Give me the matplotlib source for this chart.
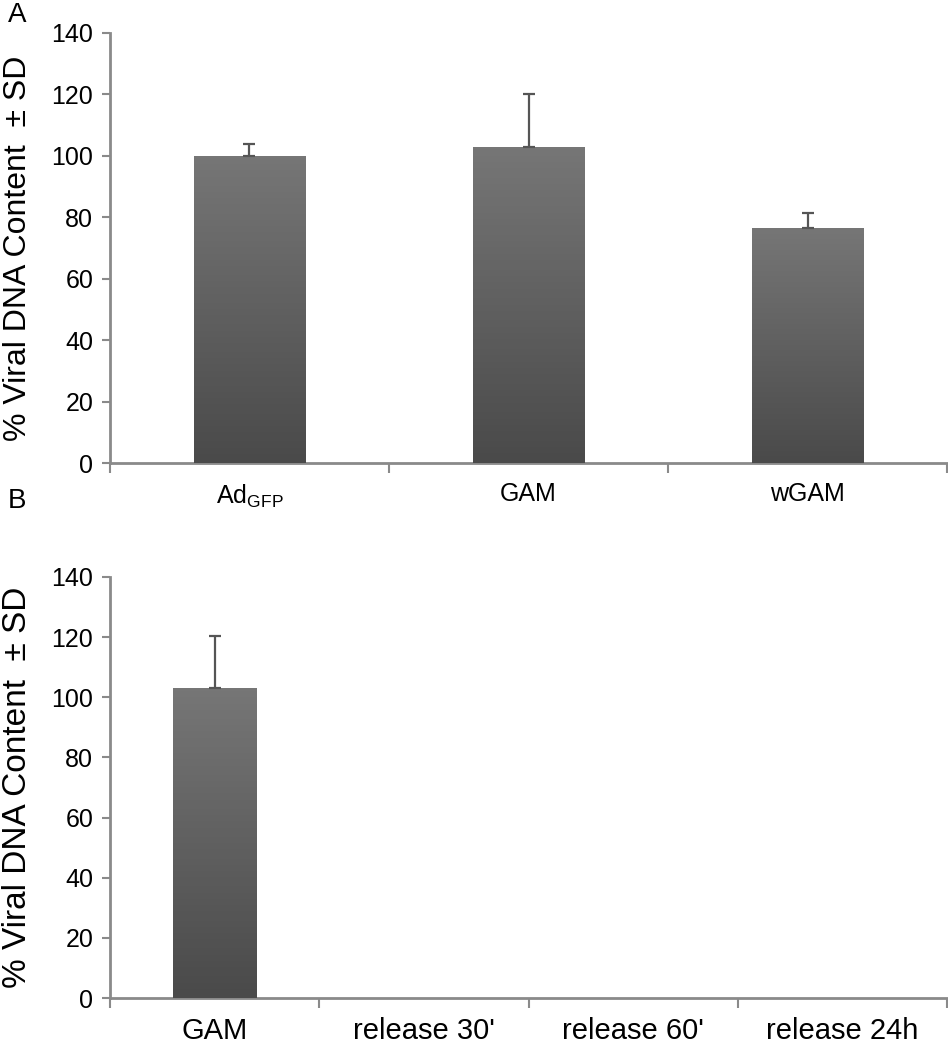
import numpy as np
import matplotlib
matplotlib.use('Agg')
import matplotlib.pyplot as plt

plt.rcParams['font.family'] = ['Liberation Sans', 'DejaVu Sans']
plt.rcParams['mathtext.fontset'] = 'custom'
plt.rcParams['mathtext.rm'] = 'Liberation Sans'

# panel A
cats_a = ['Ad$_{\\mathrm{GFP}}$', 'GAM', 'wGAM']
vals_a = [100, 103, 76.5]
sd_a = [4, 17, 5]

# panel B
cats_b = ['GAM', "release 30'", "release 60'", 'release 24h']
vals_b = [103, 0, 0, 0]
sd_b = [17.5, 0, 0, 0]

axis_col = '#8a8a8a'
grad = np.linspace(0, 1, 100).reshape(-1, 1)
cmap = matplotlib.colors.LinearSegmentedColormap.from_list('g', ['#4a4a4a', '#767676'])


def panel(ax, cats, vals, sd, xfs, yfs):
    x = np.arange(len(cats))
    bars = ax.bar(x, vals, width=0.4, color='#606060', edgecolor='none', zorder=2)
    for b, v in zip(bars, vals):
        if v <= 0:
            continue
        im = ax.imshow(grad, cmap=cmap, origin='lower', aspect='auto',
                       extent=[b.get_x(), b.get_x() + b.get_width(), 0, v], zorder=3)
        im.set_clip_path(b)
    show = [i for i, v in enumerate(vals) if v > 0]
    ax.errorbar(x[show], np.array(vals)[show],
                yerr=[np.zeros(len(show)), np.array(sd)[show]],
                fmt='none', ecolor='#555555', elinewidth=1.6, capsize=4.5, capthick=1.6, zorder=4)
    ax.set_xlim(-0.5, len(cats) - 0.5)
    ax.set_ylim(0, 140)
    ax.set_yticks(range(0, 141, 20))
    ax.set_xticks(x)
    ax.set_xticklabels(cats)
    ax.set_xticks(np.arange(-0.5, len(cats), 1), minor=True)
    ax.tick_params(axis='x', which='major', length=0, pad=14, labelsize=xfs)
    ax.tick_params(axis='x', which='minor', length=7, width=1.5, color=axis_col)
    ax.tick_params(axis='y', length=6, width=1.5, color=axis_col, labelsize=18, pad=6)
    for s in ['top', 'right']:
        ax.spines[s].set_visible(False)
    for s in ['left', 'bottom']:
        ax.spines[s].set_color(axis_col)
        ax.spines[s].set_linewidth(2)
    ax.set_ylabel('% Viral DNA Content  \u00b1 SD', fontsize=yfs)
    ax.yaxis.set_label_coords(-0.092, 0.5)


fig = plt.figure(figsize=(9.48, 10.5), dpi=100)
ax1 = fig.add_axes([0.116, 0.559, 0.883, 0.4096])
ax2 = fig.add_axes([0.116, 0.0495, 0.883, 0.401])
panel(ax1, cats_a, vals_a, sd_a, 18, 23)
panel(ax2, cats_b, vals_b, sd_b, 21, 24)
fig.text(0.008, 0.986, 'A', fontsize=20, va='center')
fig.text(0.008, 0.523, 'B', fontsize=20, va='center')

fig.savefig('out.png', dpi=100)
